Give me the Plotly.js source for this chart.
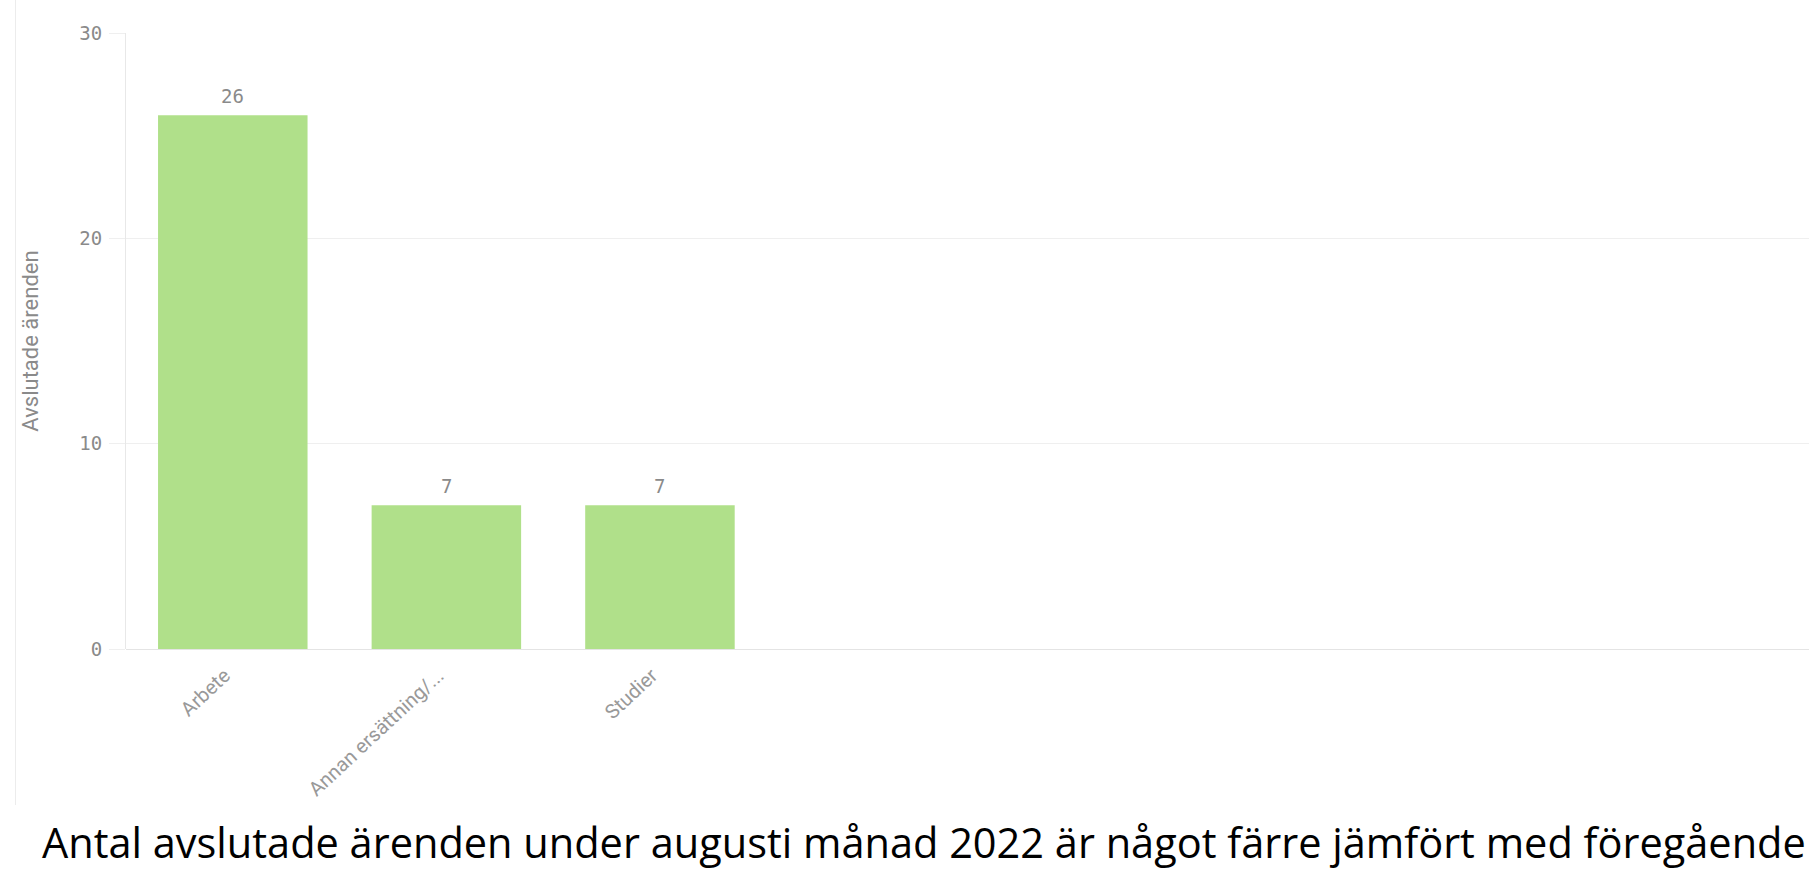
<!DOCTYPE html>
<html>
<head>
<meta charset="utf-8">
<script src="https://cdn.plot.ly/plotly-3.0.1.min.js"></script>
<style>
  html, body { margin: 0; padding: 0; background: #ffffff; }
  #wrap { position: relative; width: 1809px; height: 872px; overflow: hidden; }
  #frame { position: absolute; left: 15px; top: 0; width: 1900px; height: 805px; border-left: 1px solid #ececec; }
  #chart { position: absolute; left: 0; top: 0; width: 1809px; height: 872px; }
</style>
</head>
<body>
<div id="wrap">
  <div id="frame"></div>
  <div id="chart"></div>
</div>
<script>
// ---- data ----
const categories = ["Arbete", "Annan ersättning/...", "Studier"];
const values = [26, 7, 7];
const yTickVals = [0, 10, 20, 30];
const yTickText = ["0", "10", "20", "30"];
const yTitle = "Avslutade ärenden";
const caption = "Antal avslutade ärenden under augusti månad 2022 är något färre jämfört med föregående";

// ---- caption font size fitted to the visible width ----
const capFont = "Open Sans";
const targetCapWidth = 1764;
const cv = document.createElement("canvas").getContext("2d");
cv.font = "100px '" + capFont + "'";
const capSize = Math.floor(100 * targetCapWidth / cv.measureText(caption).width * 10) / 10;

const numFont = { family: "DejaVu Sans Mono, monospace", size: 19, color: "#8a8a8a" };

const trace = {
  type: "bar",
  x: categories,
  y: values,
  marker: { color: "#b0e08a" },
  hoverinfo: "x+y",
  width: 0.7
};

const annotations = categories.map((c, i) => ({
  x: c, y: values[i], xref: "x", yref: "y",
  text: String(values[i]),
  showarrow: false,
  yanchor: "bottom",
  yshift: 6,
  font: numFont
}));

annotations.push({
  xref: "paper", yref: "paper",
  x: (40 - 126) / 1683, y: (649 - 872) / 616,
  xanchor: "left", yanchor: "bottom",
  text: caption,
  showarrow: false,
  font: { family: capFont, size: capSize, color: "#000000" }
});

const layout = {
  width: 1809,
  height: 872,
  margin: { l: 126, r: 0, t: 33, b: 223, pad: 0 },
  paper_bgcolor: "rgba(0,0,0,0)",
  plot_bgcolor: "#ffffff",
  showlegend: false,
  bargap: 0.3,
  xaxis: {
    type: "category",
    range: [-0.5, 7.38],
    showgrid: false,
    showline: false,
    zeroline: false,
    ticks: "",
    tickangle: -43,
    ticklabelstandoff: 10,
    ticklabelshift: -8,
    tickfont: { family: "Roboto, sans-serif", size: 20, color: "#999999" },
    fixedrange: true
  },
  yaxis: {
    range: [0, 30],
    tickvals: yTickVals,
    ticktext: yTickText,
    showgrid: true,
    gridcolor: "#efefef",
    gridwidth: 1,
    zeroline: true,
    zerolinecolor: "#e4e4e4",
    zerolinewidth: 1,
    showline: true,
    linecolor: "#e8e8e8",
    linewidth: 1,
    ticks: "outside",
    ticklen: 16,
    tickcolor: "#efefef",
    tickwidth: 1,
    ticklabelstandoff: 3,
    tickfont: numFont,
    title: { text: yTitle, standoff: 34, font: { family: "Roboto, sans-serif", size: 22, color: "#8a8a8a" } },
    fixedrange: true
  },
  annotations: annotations
};

Plotly.newPlot("chart", [trace], layout, { displayModeBar: false, staticPlot: true });
</script>
</body>
</html>
